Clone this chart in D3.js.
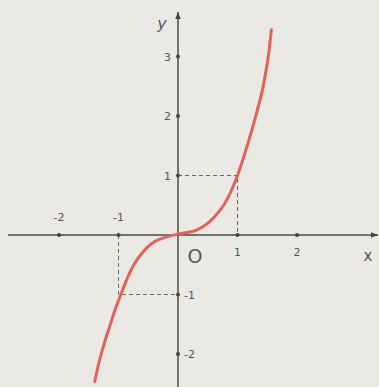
<!DOCTYPE html>
<html lang="en">
<head>
    <meta charset="UTF-8">
    <title>y = x^3</title>
    <script src="https://d3js.org/d3.v7.min.js"></script>
    <style>
        body, html { margin: 0px; background: #ebe9e4; }
        svg { display: block; }
        text { font-family: "DejaVu Sans", sans-serif; fill: #555; }
    </style>
</head>
<body>
    <div id="chart"></div>
    <script>
        // points
        var curveX = [-1.40, -1.31, -1.23, -1.14, -1.06, -0.96, -0.88, -0.78, -0.67, -0.53, -0.39, -0.19, 0.03, 0.31, 0.59, 0.82, 1.00, 1.15, 1.32, 1.43, 1.52, 1.57];
        var curveY = [-2.46, -2.07, -1.79, -1.51, -1.26, -1.00, -0.79, -0.57, -0.39, -0.22, -0.11, -0.03, 0.02, 0.08, 0.28, 0.59, 1.00, 1.46, 2.05, 2.49, 3.02, 3.45];

        var xTicks = [-2, -1, 1, 2];
        var yTicks = [3, 2, 1, -1, -2];
        var xTickLabels = ["-2", "-1", "1", "2"];
        var yTickLabels = ["3", "2", "1", "-1", "-2"];

        // dashed guides: (0,1)-(1,1)-(1,0) and (-1,0)-(-1,-1)-(0,-1)
        var guides = [
            [[0, 1], [1, 1], [1, 0]],
            [[-1, 0], [-1, -1], [0, -1]]
        ];

        var width = 379, height = 387;
        var unit = 59.5, ox = 178, oy = 235;

        var x = d3.scaleLinear().domain([-3, 3.4]).range([ox - 3 * unit, ox + 3.4 * unit]);
        var y = d3.scaleLinear().domain([-2.6, 3.8]).range([oy + 2.6 * unit, oy - 3.8 * unit]);

        var svg = d3.select("#chart").append("svg")
            .attr("width", width)
            .attr("height", height);

        svg.append("defs").append("marker")
            .attr("id", "arrow")
            .attr("viewBox", "0 0 10 10")
            .attr("refX", 10).attr("refY", 5)
            .attr("markerWidth", 7).attr("markerHeight", 7)
            .attr("markerUnits", "userSpaceOnUse")
            .attr("orient", "auto")
            .append("path")
            .attr("d", "M0,1 L10,5 L0,9 Z")
            .attr("fill", "#444");

        // axes
        svg.append("line")
            .attr("x1", 8).attr("x2", 378)
            .attr("y1", y(0)).attr("y2", y(0))
            .attr("stroke", "#4a4a4a").attr("stroke-width", 1.5)
            .attr("marker-end", "url(#arrow)");
        svg.append("line")
            .attr("x1", x(0)).attr("x2", x(0))
            .attr("y1", height).attr("y2", 12)
            .attr("stroke", "#4a4a4a").attr("stroke-width", 1.5)
            .attr("marker-end", "url(#arrow)");

        // guides
        var line = d3.line().x(d => x(d[0])).y(d => y(d[1]));
        svg.selectAll(".guide").data(guides).enter().append("path")
            .attr("class", "guide")
            .attr("d", line)
            .attr("fill", "none")
            .attr("stroke", "#666")
            .attr("stroke-width", 1)
            .attr("stroke-dasharray", "4,3");

        // tick dots
        svg.selectAll(".xdot").data(xTicks).enter().append("circle")
            .attr("cx", d => x(d)).attr("cy", y(0)).attr("r", 2)
            .attr("fill", "#444");
        svg.selectAll(".ydot").data(yTicks).enter().append("circle")
            .attr("cx", x(0)).attr("cy", d => y(d)).attr("r", 2)
            .attr("fill", "#444");

        // x tick labels: negatives above the axis, positives below
        svg.selectAll(".xlab").data(xTicks).enter().append("text")
            .attr("x", d => x(d))
            .attr("y", d => d < 0 ? y(0) - 14 : y(0) + 21)
            .attr("text-anchor", "middle")
            .style("font-size", "11px")
            .text((d, i) => xTickLabels[i]);

        // y tick labels: positives left of the axis, negatives right
        svg.selectAll(".ylab").data(yTicks).enter().append("text")
            .attr("x", d => d > 0 ? x(0) - 7 : x(0) + 6)
            .attr("y", d => y(d) + 4)
            .attr("text-anchor", d => d > 0 ? "end" : "start")
            .style("font-size", "11px")
            .text((d, i) => yTickLabels[i]);

        svg.append("text")
            .attr("x", x(0) + 17).attr("y", y(0) + 28)
            .attr("text-anchor", "middle")
            .style("font-size", "19px")
            .text("O");
        svg.append("text")
            .attr("x", 368).attr("y", y(0) + 26)
            .attr("text-anchor", "middle")
            .style("font-size", "15px")
            .text("x");
        svg.append("text")
            .attr("x", x(0) - 16).attr("y", 29)
            .attr("text-anchor", "middle")
            .style("font-size", "16px")
            .style("font-style", "italic")
            .text("y");

        // curve
        var curve = d3.line()
            .x((d, i) => x(curveX[i]))
            .y((d, i) => y(curveY[i]))
            .curve(d3.curveMonotoneX);
        svg.append("path")
            .attr("d", curve(curveX))
            .attr("fill", "none")
            .attr("stroke", "#e0625c")
            .attr("stroke-width", 3)
            .attr("stroke-linecap", "round");
    </script>
</body>
</html>
